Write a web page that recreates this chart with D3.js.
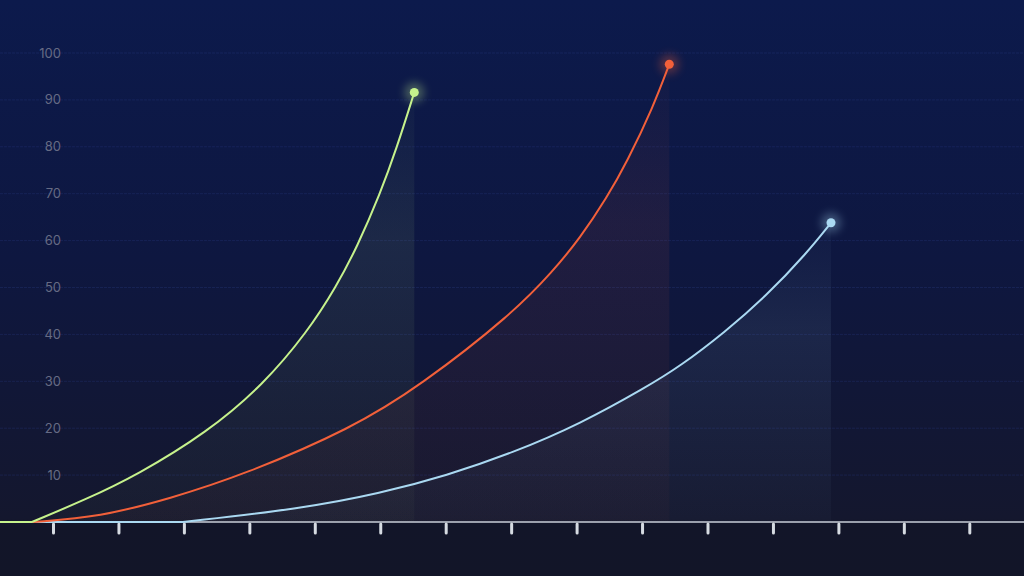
<!DOCTYPE html>
<html>
<head>
<meta charset="utf-8">
<script src="https://cdn.jsdelivr.net/npm/d3@7"></script>
<style>
  html, body { margin: 0; padding: 0; background: #121528; }
  svg { display: block; }
</style>
</head>
<body>
<div id="grafico"></div>
<script>
// datos (x en unidades de marca del eje, y en %)
var marcasX = [1, 2, 3, 4, 5, 6, 7, 8, 9, 10, 11, 12, 13, 14, 15];
var marcasY = [10, 20, 30, 40, 50, 60, 70, 80, 90, 100];

var verdeX = [0, 0.679, 1.5, 2.283, 3.353, 4.209, 4.896, 5.324, 5.645, 5.996, 6.256, 6.52];
var verdeY = [0, 0, 4.8, 10, 19.1, 29.2, 40.7, 50.1, 58.6, 69.9, 79.9, 91.6];

var naranjaX = [0, 0.694, 1.718, 2.788, 3.903, 5.568, 6.607, 8.028, 8.639, 9.052, 9.464, 9.77, 10.167, 10.416];
var naranjaY = [0, 0, 1.1, 5, 10, 20, 29, 44.5, 53.5, 60.5, 69.2, 76.8, 88.4, 97.6];

var azulX = [0, 2.986, 4.774, 5.996, 7.015, 8.033, 9.052, 10.071, 10.58, 11.267, 11.904, 12.515, 12.887];
var azulY = [0, 0, 2.8, 6.1, 9.9, 14.8, 20.9, 28.8, 33.2, 40.5, 48.3, 57.3, 63.8];

var series = [
  { nombre: "verde", color: "#c6f28c", xs: verdeX, ys: verdeY },
  { nombre: "naranja", color: "#f2603a", xs: naranjaX, ys: naranjaY },
  { nombre: "azul", color: "#aad9f2", xs: azulX, ys: azulY }
];

// separa el tramo plano (valor 0) del tramo que sube
function tramos(s) {
  var puntos = s.xs.map(function(v, j) { return [v, s.ys[j]]; });
  var k = 0;
  while (k + 1 < puntos.length && puntos[k + 1][1] === 0) k++;
  return { plano: puntos.slice(0, k + 1), sube: puntos.slice(k) };
}

function dibujar() {
  var width = 1024, height = 576;
  var svg = d3.select("#grafico").append("svg")
      .attr("width", width)
      .attr("height", height);

  var x = d3.scaleLinear().domain([0, 16]).range([-12.45, 1034.75]);
  var y = d3.scaleLinear().domain([0, 100]).range([522, 53]);
  var curva = d3.curveBasis;

  var defs = svg.append("defs");

  // fondo degradado
  var fondo = defs.append("linearGradient")
      .attr("id", "fondo").attr("x1", 0).attr("y1", 0).attr("x2", 0).attr("y2", 1);
  fondo.append("stop").attr("offset", "0%").attr("stop-color", "#0c1a4c");
  fondo.append("stop").attr("offset", "45%").attr("stop-color", "#0e1740");
  fondo.append("stop").attr("offset", "90%").attr("stop-color", "#14172e");
  fondo.append("stop").attr("offset", "91%").attr("stop-color", "#121529");
  fondo.append("stop").attr("offset", "100%").attr("stop-color", "#121528");

  svg.append("rect")
     .attr("width", width).attr("height", height)
     .attr("fill", "url(#fondo)");

  var brillo = defs.append("filter").attr("id", "brillo")
      .attr("x", "-200%").attr("y", "-200%").attr("width", "500%").attr("height", "500%");
  brillo.append("feGaussianBlur").attr("stdDeviation", 4.5);

  // lineas de la rejilla
  svg.append("g")
     .selectAll("line")
     .data(marcasY)
     .enter().append("line")
     .attr("x1", 0).attr("x2", width)
     .attr("y1", function(d) { return y(d); })
     .attr("y2", function(d) { return y(d); })
     .attr("stroke", "#2c3d86")
     .attr("stroke-opacity", 0.3)
     .attr("stroke-dasharray", "3,1")
     .attr("stroke-width", 1);

  // areas bajo cada curva
  series.forEach(function(s, i) {
    var t = tramos(s);
    var grad = defs.append("linearGradient")
        .attr("id", "area" + i)
        .attr("gradientUnits", "userSpaceOnUse")
        .attr("x1", 0).attr("x2", 0)
        .attr("y1", y(d3.max(s.ys))).attr("y2", y(0));
    grad.append("stop").attr("offset", "0%").attr("stop-color", s.color).attr("stop-opacity", 0.02);
    grad.append("stop").attr("offset", "35%").attr("stop-color", s.color).attr("stop-opacity", 0.08);
    grad.append("stop").attr("offset", "100%").attr("stop-color", s.color).attr("stop-opacity", 0.025);

    var area = d3.area()
        .x(function(d) { return x(d[0]); })
        .y0(y(0))
        .y1(function(d) { return y(d[1]); })
        .curve(curva);

    svg.append("path")
       .datum(t.sube)
       .attr("d", area)
       .attr("fill", "url(#area" + i + ")");
  });

  // etiquetas del eje y
  svg.append("g")
     .attr("font-family", "Inter, sans-serif")
     .attr("font-size", 13)
     .attr("fill", "#666b84")
     .attr("text-anchor", "end")
     .selectAll("text")
     .data(marcasY)
     .enter().append("text")
     .attr("x", 61)
     .attr("y", function(d) { return y(d); })
     .attr("dy", "0.35em")
     .text(function(d) { return d; });

  // eje x
  var eje = svg.append("g")
     .attr("transform", "translate(0," + y(0) + ")")
     .call(d3.axisBottom(x).tickValues(marcasX).tickSize(11).tickFormat(""));
  eje.select(".domain")
     .attr("d", "M0,0H" + width)
     .attr("stroke", "#c9ced8")
     .attr("stroke-width", 1.6);
  eje.selectAll(".tick line")
     .attr("stroke", "#d6dbe2")
     .attr("stroke-width", 3)
     .attr("stroke-linecap", "round")
     .attr("y1", 2);

  // curvas
  var lineaPlana = d3.line()
      .x(function(d) { return x(d[0]); })
      .y(function(d) { return y(d[1]); });
  var linea = d3.line()
      .x(function(d) { return x(d[0]); })
      .y(function(d) { return y(d[1]); })
      .curve(curva);

  series.slice().reverse().forEach(function(s) {
    var t = tramos(s);
    svg.append("path")
       .datum(t.plano)
       .attr("d", lineaPlana)
       .attr("fill", "none")
       .attr("stroke", s.color)
       .attr("stroke-width", 2);
    svg.append("path")
       .datum(t.sube)
       .attr("d", linea)
       .attr("fill", "none")
       .attr("stroke", s.color)
       .attr("stroke-width", 2);
  });

  // puntos finales con brillo
  series.forEach(function(s) {
    var n = s.xs.length - 1;
    var cx = x(s.xs[n]), cy = y(s.ys[n]);
    svg.append("circle")
       .attr("cx", cx).attr("cy", cy).attr("r", 10)
       .attr("fill", s.color)
       .attr("opacity", 0.3)
       .attr("filter", "url(#brillo)");
    svg.append("circle")
       .attr("cx", cx).attr("cy", cy).attr("r", 4.5)
       .attr("fill", s.color);
  });
}

dibujar();
</script>
</body>
</html>
